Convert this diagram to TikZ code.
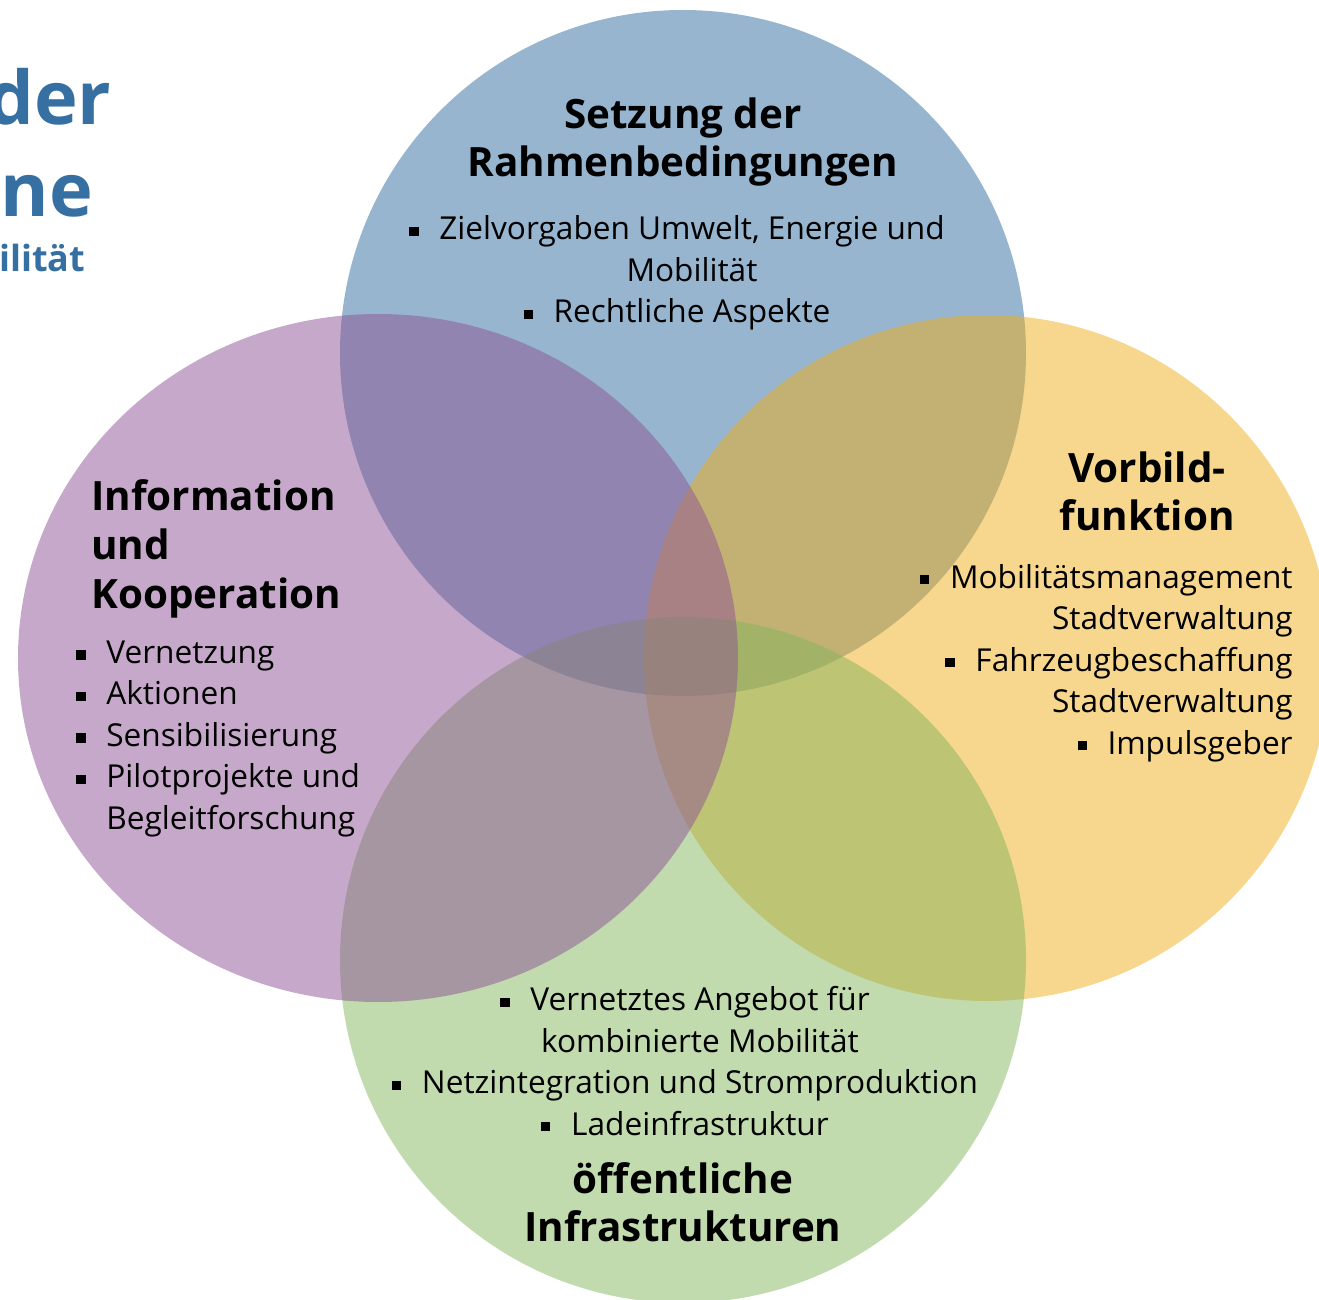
\documentclass[tikz,border=0pt]{standalone}
\usepackage{fontspec}
\setmainfont{Open Sans}
\usepackage{tikz}
\definecolor{rahmenblue}{RGB}{47,107,157}
\definecolor{infopurple}{RGB}{141,83,149}
\definecolor{vorbildyellow}{RGB}{239,173,29}
\definecolor{infragreen}{RGB}{131,181,93}
\definecolor{kopfblue}{RGB}{54,112,163}
\newcommand{\bul}{\makebox[15pt][l]{\raisebox{1.9pt}{\rule{4.6pt}{4.6pt}}}}
\newcommand{\ind}{\hspace*{15pt}}
\newcommand{\vennset}[4][]{\fill[fill opacity=0.5,#1] (#2) ellipse [x radius=#3, y radius=#4]}

\begin{document}
\begin{tikzpicture}[x=0.5pt,y=-0.5pt,
	itemtext/.style={inner sep=0pt,font=\fontsize{15.8}{20.75}\selectfont},
	headtext/.style={inner sep=0pt,font=\fontsize{20.2}{24}\selectfont\bfseries}]
				\useasboundingbox (0,0) rectangle (1319,1300);
				\clip (0,0) rectangle (1319,1300);
				
				\vennset[rahmenblue]{683,353}{343}{343};
				\vennset[vorbildyellow]{987,658}{343}{343};
				\vennset[infragreen]{683,960}{343}{343};
				\vennset[infopurple]{378,658}{360}{344};
				
				\node[anchor=base west,inner sep=0pt,text=kopfblue,font=\fontsize{37}{40}\selectfont\bfseries] (kopf1) at (-13,125) {der};
				\node[anchor=base west,inner sep=0pt,text=kopfblue,font=\fontsize{37}{40}\selectfont\bfseries] (kopf2) at (0,217) {ne};
				\node[anchor=base west,inner sep=0pt,text=kopfblue,font=\fontsize{18}{20}\selectfont\bfseries] (kopf3) at (-1,272) {ilität};
				
				\node[headtext,align=center] (rahmen) at (683,142) {Setzung der\\Rahmenbedingungen};
				\node[itemtext,align=center] (rahmenlist) at (677,273) {\bul Zielvorgaben Umwelt, Energie und\\\ind Mobilität\\\bul Rechtliche Aspekte};
				
				\node[headtext,align=left,anchor=west,font=\fontsize{20.2}{24.5}\selectfont\bfseries] (info) at (91,549) {Information\\und\\Kooperation};
				\node[itemtext,align=left,anchor=west] (infolist) at (76,739) {\bul Vernetzung\\\bul Aktionen\\\bul Sensibilisierung\\\bul Pilotprojekte und\\\ind Begleitforschung};
				
				\node[headtext,align=center] (vorbild) at (1147,491) {Vorbild-\\funktion};
				\node[itemtext,align=right,anchor=east] (vorbildlist) at (1293,663) {\bul Mobilitätsmanagement\\Stadtverwaltung\\\bul Fahrzeugbeschaffung\\Stadtverwaltung\\\bul Impulsgeber};
				
				\node[itemtext,align=center] (infralist) at (685,1061) {\bul Vernetztes Angebot für\\\ind kombinierte Mobilität\\\bul Netzintegration und Stromproduktion\\\bul Ladeinfrastruktur};
				\node[headtext,align=center] (infra) at (683,1202) {öffentliche\\Infrastrukturen};
\end{tikzpicture}
\end{document}
